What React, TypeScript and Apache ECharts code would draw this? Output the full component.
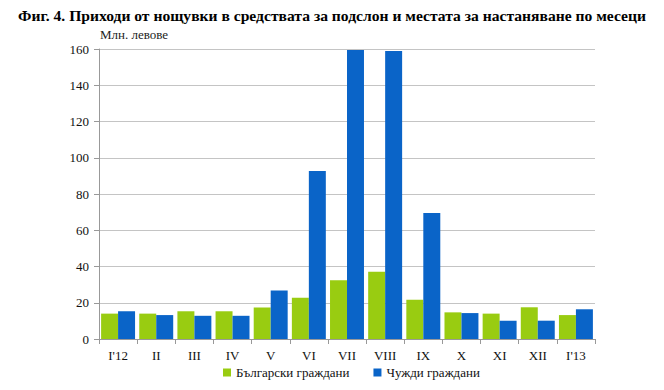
import React, { useEffect, useRef } from "react";
import * as echarts from "echarts";

const categories = ["I'12", "II", "III", "IV", "V", "VI", "VII", "VIII", "IX", "X", "XI", "XII", "I'13"];
const bulgarian = [14.0, 14.0, 15.3, 15.3, 17.4, 22.8, 32.4, 37.1, 21.7, 14.7, 14.0, 17.5, 13.2];
const foreign = [15.3, 13.2, 12.8, 12.8, 26.7, 92.7, 159.5, 158.9, 69.5, 14.3, 10.1, 10.1, 16.4];
const yTicks = { min: 0, max: 160, interval: 20 };

const serif = "Liberation Serif";

export default function App() {
  const ref = useRef<HTMLDivElement>(null);
  useEffect(() => {
    if (!ref.current) return;
    const chart = echarts.init(ref.current, null, { renderer: "svg" });
    chart.setOption({
      animation: false,
      title: {
        text: "Фиг. 4. Приходи от нощувки в средствата за подслон и местата за настаняване по месеци",
        left: "center",
        top: 2,
        textStyle: { fontFamily: serif, fontWeight: "bold", fontSize: 15.6, color: "#000" },
      },
      graphic: [
        {
          type: "text",
          left: 100,
          top: 28,
          style: { text: "Млн. левове", fontFamily: serif, fontSize: 13, fill: "#222" },
        },
      ],
      legend: {
        bottom: 6,
        left: 218,
        itemWidth: 8,
        itemHeight: 8,
        itemGap: 24,
        icon: "rect",
        textStyle: { fontFamily: serif, fontSize: 13, color: "#111" },
        data: ["Български граждани", "Чужди граждани"],
      },
      grid: { left: 99, right: 69, top: 49, bottom: 51 },
      xAxis: {
        type: "category",
        data: categories,
        axisLine: { lineStyle: { color: "#999" } },
        axisTick: { show: true, alignWithLabel: false, length: 5, lineStyle: { color: "#999" } },
        axisLabel: { fontFamily: serif, fontSize: 13, color: "#111", margin: 10 },
      },
      yAxis: {
        type: "value",
        min: yTicks.min,
        max: yTicks.max,
        interval: yTicks.interval,
        axisLine: { show: true, lineStyle: { color: "#999" } },
        axisTick: { show: true, length: 5, lineStyle: { color: "#999" } },
        axisLabel: { fontFamily: serif, fontSize: 13, color: "#111", margin: 10 },
        splitLine: { lineStyle: { color: "#c4c4c4" } },
      },
      series: [
        {
          name: "Български граждани",
          type: "bar",
          data: bulgarian,
          barGap: "0%",
          barCategoryGap: "11%",
          itemStyle: { color: "#99CC11" },
        },
        {
          name: "Чужди граждани",
          type: "bar",
          data: foreign,
          itemStyle: { color: "#0A64C8" },
        },
      ],
    });
    return () => chart.dispose();
  }, []);
  return <div ref={ref} style={{ width: 664, height: 390, position: "absolute", left: 0, top: 0 }} />;
}
